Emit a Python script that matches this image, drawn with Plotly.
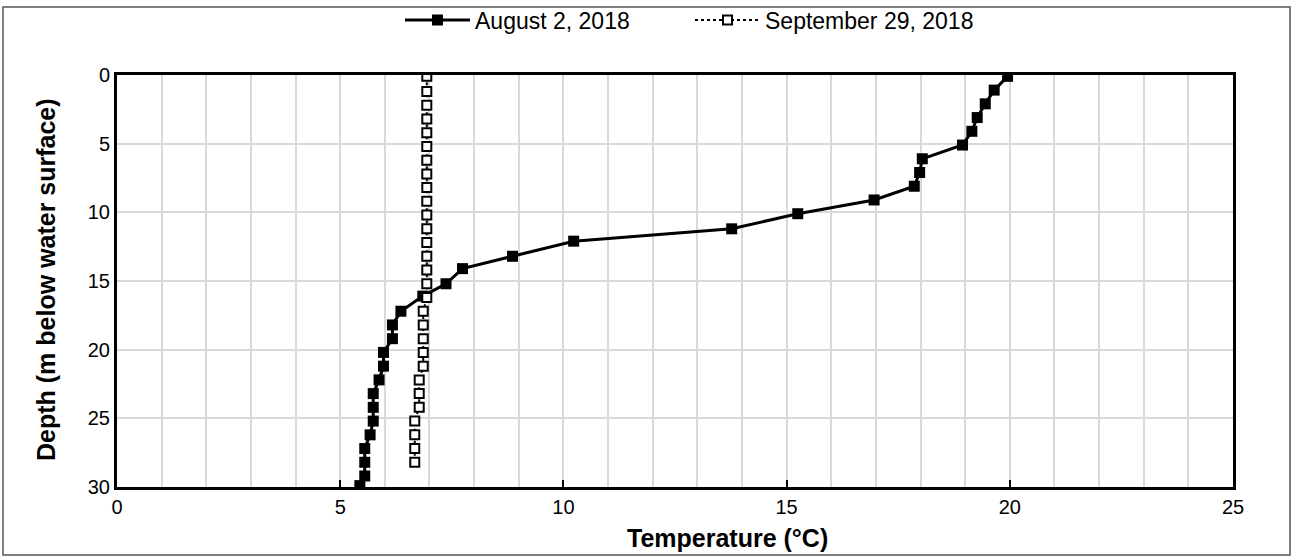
import plotly.graph_objects as go

aug_depth = [0.1, 1.1, 2.1, 3.1, 4.1, 5.1, 6.1, 7.1, 8.1, 9.1, 10.1, 11.2, 12.1, 13.2, 14.1, 15.2,
             16.1, 17.2, 18.2, 19.2, 20.2, 21.2, 22.2, 23.2, 24.2, 25.2, 26.2, 27.2, 28.2, 29.2, 29.9]
aug_temp = [19.95, 19.65, 19.45, 19.27, 19.15, 18.94, 18.04, 17.98, 17.86, 16.96, 15.25, 13.77,
            10.23, 8.86, 7.74, 7.37, 6.85, 6.36, 6.17, 6.17, 5.97, 5.97, 5.87, 5.74, 5.74, 5.74,
            5.67, 5.55, 5.55, 5.55, 5.44]

sep_depth = [0.1, 1.2, 2.2, 3.2, 4.2, 5.2, 6.2, 7.2, 8.2, 9.2, 10.2, 11.2, 12.2, 13.2, 14.2, 15.2,
             16.2, 17.2, 18.2, 19.2, 20.2, 21.2, 22.2, 23.2, 24.2, 25.2, 26.2, 27.2, 28.2]
sep_temp = [6.94] * 17 + [6.86] * 5 + [6.77] * 3 + [6.67] * 4

x_ticks = [0, 5, 10, 15, 20, 25]
y_ticks = [0, 5, 10, 15, 20, 25, 30]

FONT = "Liberation Sans, Arial, sans-serif"

fig = go.Figure()
fig.add_trace(go.Scatter(
    x=aug_temp, y=aug_depth, name="August 2, 2018", mode="lines+markers",
    line=dict(color="black", width=3),
    marker=dict(symbol="square", size=11, color="black"),
))
fig.add_trace(go.Scatter(
    x=sep_temp, y=sep_depth, name="September 29, 2018", mode="lines+markers",
    line=dict(color="black", width=2, dash="dot"),
    marker=dict(symbol="square", size=9, color="white", line=dict(color="black", width=2)),
))

L, R, T, B = 117, 61, 75, 73
W, H = 1294, 560
pw, ph = W - L - R, H - T - B


def px_x(p):
    return (p - L) / pw


def px_y(p):
    return (H - B - p) / ph


fig.update_layout(
    width=W, height=H,
    margin=dict(l=L, r=R, t=T, b=B, autoexpand=False),
    paper_bgcolor="white", plot_bgcolor="white",
    font=dict(family=FONT, size=20, color="black"),
    showlegend=True,
    legend=dict(orientation="h", x=px_x(400), xanchor="left",
                y=px_y(20), yanchor="middle",
                font=dict(size=23), bgcolor="rgba(0,0,0,0)",
                itemwidth=65, entrywidth=210, entrywidthmode="pixels"),
    xaxis=dict(range=[0, 25], tickvals=x_ticks, ticks="inside", ticklen=7, tickwidth=2,
               tickcolor="black", showline=True, linecolor="black", linewidth=3, mirror=True,
               showgrid=True, gridcolor="#d9d9d9", gridwidth=2,
               minor=dict(dtick=1, showgrid=True, gridcolor="#d9d9d9", gridwidth=2),
               zeroline=False, tickfont=dict(size=20)),
    yaxis=dict(range=[30, 0], tickvals=y_ticks, showline=True, linecolor="black", linewidth=3,
               mirror=True, showgrid=True, gridcolor="#d9d9d9", gridwidth=2, zeroline=False,
               ticks="", tickfont=dict(size=20)),
    annotations=[
        dict(text="<b>Temperature (°C)</b>", xref="paper", yref="paper",
             x=px_x(727), y=px_y(538), xanchor="center", yanchor="middle",
             showarrow=False, font=dict(size=25)),
        dict(text="<b>Depth (m below water surface)</b>", xref="paper", yref="paper",
             x=px_x(46), y=px_y(280), xanchor="center", yanchor="middle",
             textangle=-90, showarrow=False, font=dict(size=25)),
    ],
    shapes=[dict(type="rect", xref="paper", yref="paper",
                 x0=px_x(3), x1=px_x(1290),
                 y0=px_y(555), y1=px_y(7),
                 line=dict(color="#555555", width=1.5), layer="below")],
)

fig.write_html("out.html", config={"displayModeBar": False},
               post_script="document.body.style.margin='0';")
